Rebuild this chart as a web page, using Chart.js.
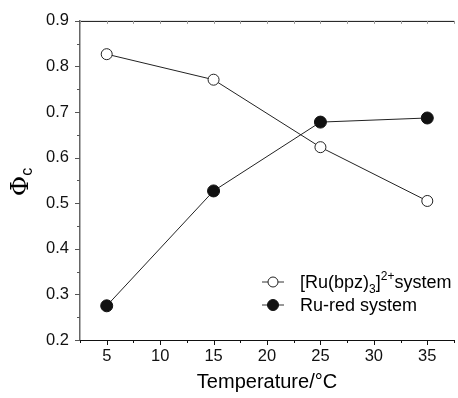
<!DOCTYPE html>
<html><head><meta charset="utf-8">
<script src="https://cdn.jsdelivr.net/npm/chart.js@4/dist/chart.umd.min.js"></script>
<style>
html,body{margin:0;padding:0;background:#fff;overflow:hidden;width:458px;height:398px;}
#wrap{position:relative;width:461px;height:398px;}
.ytitle{position:absolute;left:0px;top:162px;width:40px;height:40px;font-family:"DejaVu Serif",serif;font-size:25px;color:#000;transform:rotate(-90deg);transform-origin:center;text-align:center;line-height:40px;}
.ytitle sub{font-family:"Liberation Sans",Arial,sans-serif;font-size:16px;vertical-align:-4px;}
.leg{position:absolute;display:flex;align-items:center;height:22px;font-family:"Liberation Sans",Arial,sans-serif;font-size:18px;color:#000;white-space:nowrap;}
.leg svg{flex:none;margin-right:0;}
.leg sub{font-size:12px;vertical-align:-5px;}
.leg sup{font-size:12px;vertical-align:8px;}
</style></head>
<body>
<div id="wrap">
<canvas id="c" width="461" height="398"></canvas>
<div class="ytitle">&Phi;<sub>c</sub></div>
<div class="leg" style="left:261px;top:271px;"><svg width="39" height="14"><line x1="1" y1="7" x2="23" y2="7" stroke="#333" stroke-width="1"/><circle cx="12" cy="7" r="5" fill="#fff" stroke="#222" stroke-width="1"/></svg><span>[Ru(bpz)<sub>3</sub>]<sup>2+</sup>system</span></div>
<div class="leg" style="left:261px;top:294px;"><svg width="39" height="14"><line x1="1" y1="7" x2="23" y2="7" stroke="#333" stroke-width="1"/><circle cx="12" cy="7" r="5.5" fill="#111" stroke="#111" stroke-width="1"/></svg><span>Ru-red system</span></div>
</div>
<script>
const temperatures = [5, 15, 25, 35];
const ruBpzSystem = [0.827, 0.771, 0.623, 0.505];
const ruRedSystem = [0.275, 0.527, 0.678, 0.687];
const xTicks = [5, 10, 15, 20, 25, 30, 35];
const yTicks = [0.2, 0.3, 0.4, 0.5, 0.6, 0.7, 0.8, 0.9];

const tickPlugin = {
  id: 'ticks',
  afterDraw(chart) {
    const ctx = chart.ctx, xs = chart.scales.x, ys = chart.scales.y, a = chart.chartArea;
    ctx.save();
    ctx.lineWidth = 1;
    ctx.strokeStyle = '#111';
    ctx.beginPath(); ctx.moveTo(a.left, a.top + 0.5); ctx.lineTo(a.right, a.top + 0.5); ctx.stroke();
    for (let v = 2.5; v <= 37.5; v += 2.5) {
      const px = Math.round(xs.getPixelForValue(v)) + 0.5;
      const major = (v % 5 === 0);
      ctx.strokeStyle = '#111';
      ctx.beginPath(); ctx.moveTo(px, a.bottom); ctx.lineTo(px, a.bottom + (major ? 5 : 3)); ctx.stroke();
      ctx.strokeStyle = '#999';
      ctx.beginPath(); ctx.moveTo(px, a.top); ctx.lineTo(px, a.top + 3); ctx.stroke();
    }
    ctx.strokeStyle = '#555';
    for (let i = 0; i <= 14; i++) {
      const v = 0.2 + i * 0.05;
      const py = Math.round(ys.getPixelForValue(v)) + 0.5;
      const major = (i % 2 === 0);
      ctx.beginPath(); ctx.moveTo(a.left, py); ctx.lineTo(a.left - (major ? 5 : 3), py); ctx.stroke();
    }
    ctx.restore();
  }
};

new Chart(document.getElementById('c'), {
  type: 'line',
  data: {
    datasets: [
      { label: '[Ru(bpz)3]2+ system', data: temperatures.map((t, i) => ({x: t, y: ruBpzSystem[i]})),
        borderColor: '#222', borderWidth: 1, backgroundColor: '#fff', pointBackgroundColor: '#fff',
        pointBorderColor: '#222', pointBorderWidth: 1, pointRadius: 5.5, tension: 0 },
      { label: 'Ru-red system', data: temperatures.map((t, i) => ({x: t, y: ruRedSystem[i]})),
        borderColor: '#222', borderWidth: 1, backgroundColor: '#111', pointBackgroundColor: '#111',
        pointBorderColor: '#111', pointBorderWidth: 1, pointRadius: 6, tension: 0 }
    ]
  },
  options: {
    responsive: false, animation: false,
    layout: { padding: { top: 19, right: 0, left: 0, bottom: 0 } },
    plugins: { legend: { display: false }, tooltip: { enabled: false } },
    scales: {
      x: {
        type: 'linear', min: 2.5, max: 37.5,
        afterBuildTicks: s => { s.ticks = xTicks.map(v => ({ value: v })); },
        afterFit: s => { s.height = 58; },
        grid: { display: false, drawTicks: false },
        border: { display: true, color: '#111', width: 1 },
        ticks: { padding: 7, color: '#111', font: { family: 'Liberation Sans', size: 16.5 }, maxRotation: 0, callback: v => String(v) },
        title: { display: true, text: 'Temperature/°C', color: '#000', font: { family: 'Liberation Sans', size: 20 }, padding: { top: 4 } }
      },
      y: {
        min: 0.2, max: 0.9,
        afterBuildTicks: s => { s.ticks = yTicks.map(v => ({ value: v })); },
        afterFit: s => { s.width = 80; },
        grid: { display: false, drawTicks: false },
        border: { display: true, color: '#666', width: 1.5 },
        ticks: { padding: 11, color: '#111', font: { family: 'Liberation Sans', size: 16.5 }, callback: v => Number(v).toFixed(1) }
      }
    }
  },
  plugins: [tickPlugin]
});
</script>
</body></html>
